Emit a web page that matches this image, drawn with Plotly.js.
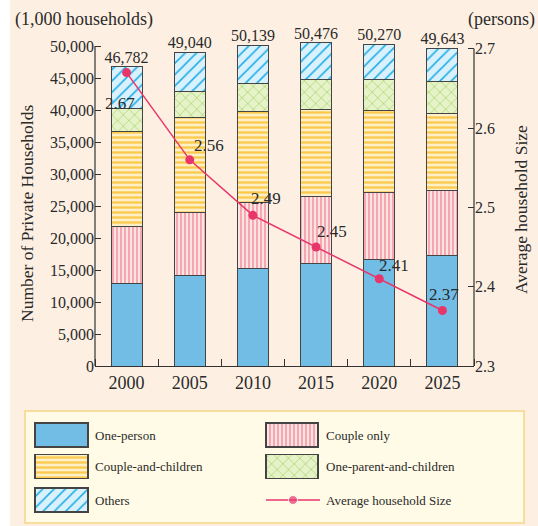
<!DOCTYPE html>
<html>
<head>
<meta charset="utf-8">
<script src="https://cdn.plot.ly/plotly-3.0.1.min.js"></script>
<style>html,body{margin:0;padding:0;background:#fff;}#chart{width:538px;height:526px;}</style>
</head>
<body>
<div id="chart"></div>
<script>
// ---- data ----
const years = [2000, 2005, 2010, 2015, 2020, 2025];
const onePerson = [12911, 14170, 15160, 15940, 16670, 17190];
const coupleOnly = [8835, 9780, 10340, 10620, 10410, 10210];
const coupleChildren = [14919, 14850, 14340, 13540, 12920, 12100];
const oneParent = [3578, 4060, 4360, 4700, 4800, 4880];
const others = [6539, 6180, 5939, 5676, 5470, 5263];
const totals = [46782, 49040, 50139, 50476, 50270, 49643];
const avgSize = [2.67, 2.56, 2.49, 2.45, 2.41, 2.37];
const seriesNames = ['One-person', 'Couple only', 'Couple-and-children', 'One-parent-and-children', 'Others'];
const lineName = 'Average household Size';
const leftTicks = [0, 5000, 10000, 15000, 20000, 25000, 30000, 35000, 40000, 45000, 50000];
const rightTicks = [2.3, 2.4, 2.5, 2.6, 2.7];

// ---- styles ----
const W = 538, H = 526;
const FONT = 'Liberation Serif, Times New Roman, serif';
const TXT = '#2a2a2a';
const OUT = '#444';
const AXC = '#333';
const LINEC = '#e8366b';
const styles = [
  {color: '#72bde6'},
  {color: '#fde3e3', pattern: {shape: '|', fgcolor: '#f5a1aa', bgcolor: '#fde3e3', size: 4, solidity: 0.45}},
  {color: '#fdf0c6', pattern: {shape: '-', fgcolor: '#fcc94a', bgcolor: '#fdf0c6', size: 5, solidity: 0.45}},
  {color: '#e6f2c8', pattern: {shape: 'x', fgcolor: '#9fd062', bgcolor: '#e6f2c8', size: 8, solidity: 0.15}},
  {color: '#d9f1fc', pattern: {shape: '/', fgcolor: '#22aee6', bgcolor: '#d9f1fc', size: 8, solidity: 0.2}}
];
const seriesVals = [onePerson, coupleOnly, coupleChildren, oneParent, others];

// plot area in pixels (top extended so bars above 50,000 are not clipped)
const PX0 = 95, PX1 = 474, PYTOP = 30, PY1 = 366;
const px = v => v / W, py = v => (H - v) / H;
const STEP = 5, BARW = 2.45;
const LEFT_RANGE = [0, 52500];
const RIGHT_RANGE = [2.3, 2.7237];

const traces = [];
seriesVals.forEach((vals, i) => {
  traces.push({
    type: 'bar', x: years, y: vals, name: seriesNames[i], width: BARW,
    xaxis: 'x', yaxis: 'y', cliponaxis: false, showlegend: false,
    marker: Object.assign({line: {color: OUT, width: 1}}, styles[i]),
    hoverinfo: 'skip'
  });
});
// totals above the bars
traces.push({
  type: 'scatter', mode: 'text', x: years, y: totals,
  text: totals.map(t => t.toLocaleString('en-US')),
  textposition: 'top center', cliponaxis: false, showlegend: false,
  textfont: {family: FONT, size: 16, color: TXT}, hoverinfo: 'skip',
  xaxis: 'x', yaxis: 'y'
});
// average household size line
traces.push({
  type: 'scatter', mode: 'lines+markers', x: years, y: avgSize, name: lineName,
  xaxis: 'x', yaxis: 'y2', cliponaxis: false, showlegend: false,
  line: {color: LINEC, width: 1.5}, marker: {color: LINEC, size: 9},
  hoverinfo: 'skip'
});

// ---- custom legend (swatches on a pixel overlay axis) ----
const legCols = [[61.5, 53], [292, 52]];
const legRows = [435, 466.5, 500];
const legSlots = [[0, 0], [1, 0], [0, 1], [1, 1], [0, 2]];
const annotations = [];
legSlots.forEach((s, i) => {
  const [cx, w] = legCols[s[0]];
  const cy = legRows[s[1]];
  traces.push({
    type: 'bar', x: [cx], y: [24], base: [H - cy - 12], width: [w],
    xaxis: 'x3', yaxis: 'y3', showlegend: false, hoverinfo: 'skip',
    marker: Object.assign({line: {color: OUT, width: 1.3}}, styles[i])
  });
  annotations.push({
    xref: 'paper', yref: 'paper', x: px(s[0] === 0 ? 93 : 324), y: py(cy),
    xanchor: 'left', yanchor: 'middle', showarrow: false, text: seriesNames[i],
    font: {family: FONT, size: 13, color: TXT}
  });
});
traces.push({
  type: 'scatter', mode: 'lines+markers', x: [266, 293, 320], y: [H - 500, H - 500, H - 500],
  xaxis: 'x3', yaxis: 'y3', showlegend: false, hoverinfo: 'skip',
  line: {color: LINEC, width: 1.5}, marker: {color: LINEC, size: [0, 9, 0]}
});
annotations.push({
  xref: 'paper', yref: 'paper', x: px(324), y: py(500), xanchor: 'left', yanchor: 'middle',
  showarrow: false, text: lineName, font: {family: FONT, size: 13, color: TXT}
});

// line value labels
const labelShift = [[-7, -31], [19, 14], [13, 17], [16, 16], [15, 13], [2, 16]];
avgSize.forEach((v, i) => {
  annotations.push({
    xref: 'x', yref: 'y2', x: years[i], y: v, showarrow: false,
    xanchor: 'center', yanchor: 'middle', xshift: labelShift[i][0], yshift: labelShift[i][1],
    text: v.toFixed(2), font: {family: FONT, size: 17, color: TXT}
  });
});
// unit labels and axis titles
annotations.push({xref: 'paper', yref: 'paper', x: px(13), y: py(19), xanchor: 'left', yanchor: 'middle',
  showarrow: false, text: '(1,000 households)', font: {family: FONT, size: 18, color: TXT}});
annotations.push({xref: 'paper', yref: 'paper', x: px(537), y: py(19), xanchor: 'right', yanchor: 'middle',
  showarrow: false, text: '(persons)', font: {family: FONT, size: 18, color: TXT}});
annotations.push({xref: 'paper', yref: 'paper', x: px(27), y: py(214), xanchor: 'center', yanchor: 'middle',
  textangle: -90, showarrow: false, text: 'Number of Private Households', font: {family: FONT, size: 17.5, color: TXT}});
annotations.push({xref: 'paper', yref: 'paper', x: px(521), y: py(210), xanchor: 'center', yanchor: 'middle',
  textangle: -90, showarrow: false, text: 'Average household Size', font: {family: FONT, size: 17.5, color: TXT}});

const xr = [years[0] - STEP / 2, years[years.length - 1] + STEP / 2];
const layout = {
  width: W, height: H,
  margin: {l: 0, r: 0, t: 0, b: 0, pad: 0},
  paper_bgcolor: '#ffffff', plot_bgcolor: 'rgba(0,0,0,0)',
  barmode: 'stack',
  font: {family: FONT, color: TXT},
  showlegend: false,
  xaxis: {
    domain: [px(PX0), px(PX1)], anchor: 'y', type: 'linear', range: xr,
    tickvals: years, ticktext: years.map(String), ticks: '',
    showline: true, linecolor: AXC, linewidth: 1.2,
    minor: {tick0: xr[0], dtick: STEP, ticks: 'inside', ticklen: 7, tickcolor: AXC, showgrid: false},
    tickfont: {family: FONT, size: 18, color: TXT}, showgrid: false, zeroline: false,
    automargin: false, fixedrange: true
  },
  yaxis: {
    domain: [py(PY1), py(PYTOP)], anchor: 'x', range: LEFT_RANGE,
    tickvals: leftTicks, tickformat: ',d', showline: false,
    ticks: 'inside', ticklen: 6, tickcolor: AXC,
    tickfont: {family: FONT, size: 16, color: TXT}, showgrid: false, zeroline: false,
    automargin: false, fixedrange: true
  },
  yaxis2: {
    overlaying: 'y', side: 'right', anchor: 'x', range: RIGHT_RANGE,
    tickvals: rightTicks, tickformat: '.1f', showline: false,
    ticks: 'inside', ticklen: 6, tickcolor: AXC,
    tickfont: {family: FONT, size: 16, color: TXT}, showgrid: false, zeroline: false,
    automargin: false, fixedrange: true
  },
  xaxis3: {domain: [0, 1], anchor: 'y3', range: [0, W], visible: false, fixedrange: true},
  yaxis3: {domain: [0, 1], anchor: 'x3', range: [0, H], visible: false, fixedrange: true},
  shapes: [
    {type: 'rect', xref: 'paper', yref: 'paper', x0: px(10), x1: 1, y0: 0, y1: 1,
      fillcolor: '#fdf0e2', line: {width: 0}, layer: 'below'},
    {type: 'rect', xref: 'paper', yref: 'paper', x0: px(25), x1: px(524), y0: py(523), y1: py(411),
      fillcolor: '#fffbe6', line: {color: '#f6d588', width: 1.5}, layer: 'below'},
    // y axis lines ending at the top tick
    {type: 'line', xref: 'paper', yref: 'y', x0: px(PX0), x1: px(PX0),
      y0: leftTicks[0], y1: leftTicks[leftTicks.length - 1], line: {color: AXC, width: 1.2}},
    {type: 'line', xref: 'paper', yref: 'y2', x0: px(PX1), x1: px(PX1),
      y0: rightTicks[0], y1: rightTicks[rightTicks.length - 1], line: {color: AXC, width: 1.2}}
  ],
  annotations: annotations
};

Plotly.newPlot('chart', traces, layout, {displayModeBar: false, staticPlot: true});
</script>
</body>
</html>
